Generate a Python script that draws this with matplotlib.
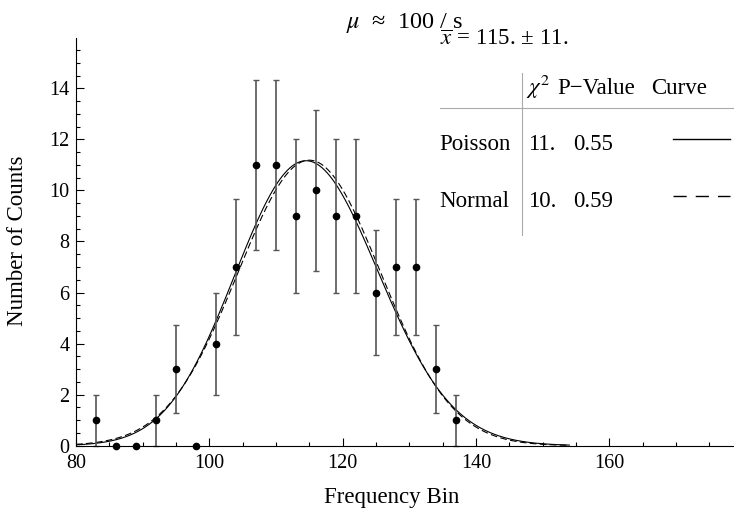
import math
import numpy as np
import matplotlib
matplotlib.use("Agg")
import matplotlib.pyplot as plt
from matplotlib.ticker import MultipleLocator

plt.rcParams["font.family"] = ["Liberation Serif", "DejaVu Serif"]
plt.rcParams["mathtext.fontset"] = "stix"

# binned counts
bins = [83, 86, 89, 92, 95, 98, 101, 104, 107, 110, 113, 116, 119, 122, 125, 128, 131, 134, 137]
counts = [1, 0, 0, 1, 3, 0, 4, 7, 11, 11, 9, 10, 9, 9, 6, 7, 7, 3, 1]
errors = [1, 0, 0, 1, 1.73, 0, 2, 2.65, 3.32, 3.32, 3, 3.16, 3, 3, 2.45, 2.65, 2.65, 1.73, 1]

# fit parameters shown in the table
fit_mean = 115.0
fit_sigma = 10.7
fit_scale = 300.0  # counts * bin width
curve_end = 154

table_rows = ["Poisson", "Normal"]
table_chi2 = ["11.", "10."]
table_pval = ["0.55", "0.59"]
table_style = ["-", (0, (9.5, 6.5))]

W, H = 734, 512
fig = plt.figure(figsize=(W / 100, H / 100), dpi=100)
ax = fig.add_axes([76 / W, 1 - 445.7 / H, (W - 76) / W, (445.7 - 38.3) / H])

xs = np.linspace(80, curve_end, 400)
poisson = np.array([fit_scale * math.exp(x * math.log(fit_mean) - fit_mean - math.lgamma(x + 1)) for x in xs])
normal = fit_scale / (math.sqrt(2 * math.pi) * fit_sigma) * np.exp(-(xs - fit_mean) ** 2 / (2 * fit_sigma ** 2))
ax.plot(xs, poisson, color="black", lw=0.8)
ax.plot(xs, normal, color="black", lw=0.8, ls=(0, (6, 3)))

ax.errorbar(bins, counts, yerr=errors, fmt="none", ecolor="#555555", elinewidth=1.2,
            capsize=2.5, capthick=1.0, clip_on=False)
ax.plot(bins, counts, "o", color="black", ms=4.5, clip_on=False, zorder=5)

ax.set_xlim(80, 178.7)
ax.set_ylim(0, 15.96)
for s in ["top", "right"]:
    ax.spines[s].set_visible(False)
for s in ["left", "bottom"]:
    ax.spines[s].set_linewidth(0.8)
ax.set_xticks([80, 100, 120, 140, 160])
ax.xaxis.set_minor_locator(MultipleLocator(5))
ax.set_yticks(range(0, 15, 2))
ax.yaxis.set_minor_locator(MultipleLocator(0.5))
ax.tick_params(which="both", direction="in", labelsize=14.5, width=0.8)
ax.tick_params(which="major", length=6)
ax.tick_params(which="minor", length=3.2)
ax.tick_params(axis="x", pad=6)
ax.tick_params(axis="y", pad=4.5)


def px(x, y):
    return x / W, 1 - y / H


fig.text(*px(404, 28), "$\\mu$  \u2248  100 / s", ha="center", va="baseline", fontsize=17.5)
fig.text(*px(391.5, 498), "Frequency Bin", ha="center", va="center", fontsize=16.5)
fig.text(*px(18, 241), "Number of Counts", ha="center", va="center", rotation=90, fontsize=16.5)

fig.text(*px(440, 45), "$\\overline{x}$ = 115. \u00b1 11.", ha="left", va="baseline", fontsize=16.5)
fig.text(*px(526, 94), r"$\chi^2$", ha="left", va="baseline", fontsize=16.5)
fig.text(*px(557, 94), "P\u2212Value", ha="left", va="baseline", fontsize=16.5)
fig.text(*px(651, 94), "Curve", ha="left", va="baseline", fontsize=16.5)

fig.add_artist(plt.Line2D([440 / W, 1.0], [1 - 107.7 / H] * 2, transform=fig.transFigure, color="#aaaaaa", lw=0.8))
fig.add_artist(plt.Line2D([521.7 / W] * 2, [1 - 72.7 / H, 1 - 235 / H], transform=fig.transFigure, color="#aaaaaa", lw=0.8))

row_y = [150, 207]
for name, c2, pv, st, yb in zip(table_rows, table_chi2, table_pval, table_style, row_y):
    fig.text(*px(439, yb), name, ha="left", va="baseline", fontsize=16.5)
    fig.text(*px(528, yb), c2, ha="left", va="baseline", fontsize=16.5)
    fig.text(*px(573, yb), pv, ha="left", va="baseline", fontsize=16.5)
    fig.add_artist(plt.Line2D([673 / W, 730 / W], [1 - (yb - 10.7) / H] * 2, transform=fig.transFigure,
                              color="black", lw=1.0, ls=st))

fig.savefig("out.png", dpi=100)
